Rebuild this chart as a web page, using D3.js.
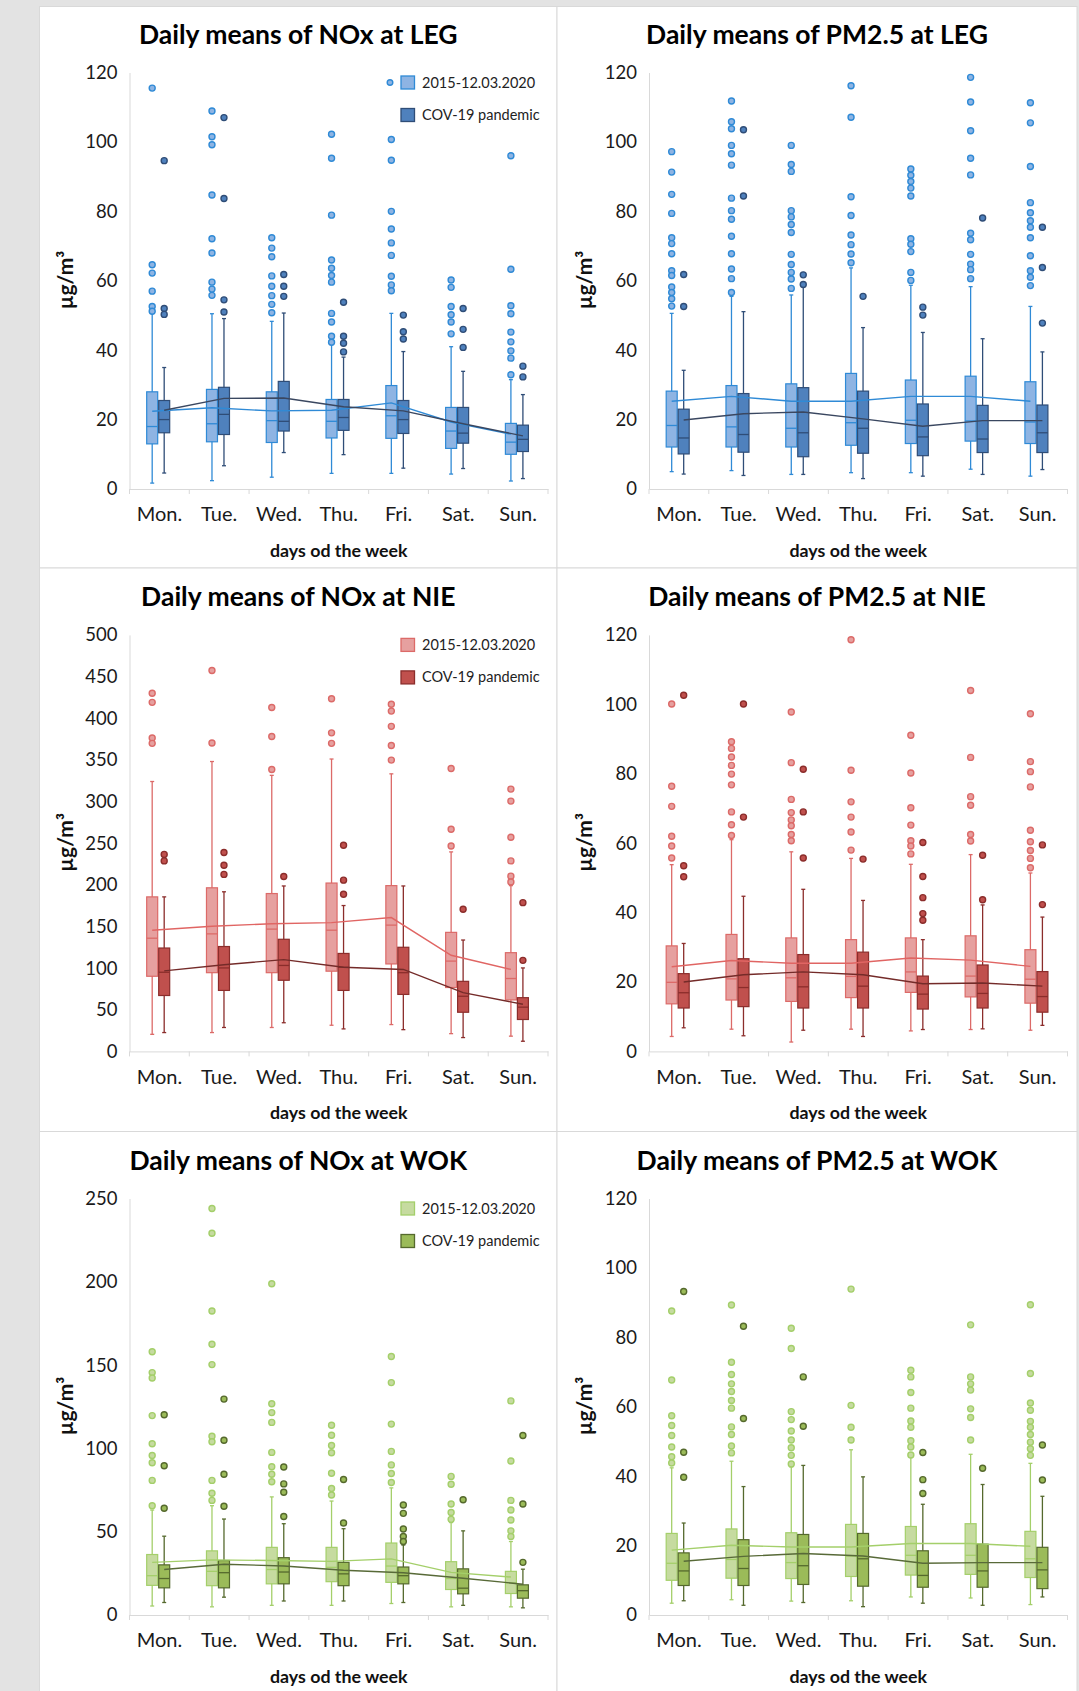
<!DOCTYPE html>
<html>
<head>
<meta charset="utf-8">
<script src="https://cdn.jsdelivr.net/npm/d3@7"></script>
<style>
body { margin: 0; background: #e3e3e3; }
svg { display: block; }
</style>
</head>
<body>
<div id="chart"></div>
<script>
// categories and legend names
var days = ["Mon.", "Tue.", "Wed.", "Thu.", "Fri.", "Sat.", "Sun."];
var seriesNames = ["2015-12.03.2020", "COV-19 pandemic"];

// tick labels
var ticks120 = [0, 20, 40, 60, 80, 100, 120];
var ticks500 = [0, 50, 100, 150, 200, 250, 300, 350, 400, 450, 500];
var ticks250 = [0, 50, 100, 150, 200, 250];

// each row: [whisker low, Q1, median, Q3, whisker high, mean]
var legNoxPre = [
  [1.7, 13.0, 18.0, 28.0, 50.6, 22.4],
  [2.4, 13.6, 18.8, 28.7, 50.5, 23.4],
  [3.4, 13.4, 19.7, 28.0, 48.3, 22.5],
  [4.5, 14.7, 19.5, 25.8, 41.8, 22.7],
  [4.5, 14.6, 21.1, 29.8, 50.6, 24.8],
  [4.3, 11.7, 16.7, 23.5, 41.0, 19.3],
  [2.3, 10.0, 13.5, 18.9, 31.5, 15.8]
];
var legNoxPreOut = [
  [115.5, 64.6, 62.2, 57.0, 52.6, 51.2],
  [108.9, 101.5, 99.2, 84.7, 72.1, 68.0, 59.6, 57.6, 55.8],
  [72.4, 69.4, 66.9, 61.4, 58.4, 55.7, 53.2, 50.8],
  [102.2, 95.3, 78.9, 66.0, 63.6, 61.5, 59.6, 50.6, 48.1, 44.0, 42.3],
  [100.7, 94.7, 80.0, 74.9, 70.9, 67.3, 61.3, 58.8, 57.1],
  [60.2, 58.1, 52.6, 50.2, 48.1, 44.7],
  [96.0, 63.3, 52.8, 50.5, 45.2, 42.4, 39.8, 37.7, 32.9]
];
var legNoxCov = [
  [4.6, 16.2, 20.0, 25.5, 35.0, 22.7],
  [6.7, 15.7, 21.5, 29.3, 49.1, 26.1],
  [10.5, 16.7, 19.5, 31.0, 50.7, 26.2],
  [9.9, 16.9, 20.6, 25.8, 38.0, 23.7],
  [6.0, 16.0, 20.0, 25.5, 39.6, 22.5],
  [5.9, 13.2, 16.1, 23.5, 33.9, 18.8],
  [3.0, 10.8, 14.3, 18.4, 27.2, 15.3]
];
var legNoxCovOut = [
  [94.6, 52.0, 50.3],
  [107.0, 83.7, 54.5, 51.0],
  [61.8, 58.4, 55.5],
  [53.8, 44.0, 42.0, 39.5],
  [50.1, 45.3, 43.2],
  [52.0, 46.0, 40.8],
  [35.4, 32.3]
];

var legPmPre = [
  [5.0, 12.1, 18.3, 28.2, 50.6, 25.3],
  [5.3, 12.1, 17.9, 29.8, 55.5, 26.7],
  [4.2, 12.1, 17.5, 30.3, 55.9, 25.3],
  [4.7, 12.6, 19.1, 33.3, 63.7, 25.3],
  [4.7, 13.1, 19.8, 31.4, 58.7, 26.7],
  [5.7, 13.8, 19.6, 32.5, 58.3, 26.7],
  [3.7, 13.1, 19.3, 30.9, 52.6, 25.3]
];
var legPmPreOut = [
  [97.2, 91.3, 84.9, 79.4, 72.4, 70.7, 67.8, 62.9, 61.5, 58.2, 56.6, 54.8, 52.7],
  [111.8, 105.8, 103.8, 99.0, 96.6, 93.3, 83.8, 80.2, 77.7, 72.8, 67.8, 63.4, 60.6, 56.6],
  [99.0, 93.5, 91.5, 80.2, 78.4, 76.2, 73.9, 67.6, 64.7, 62.4, 60.5, 57.8],
  [116.2, 107.1, 84.2, 78.8, 73.2, 70.4, 67.7, 65.2],
  [92.2, 90.4, 88.6, 86.7, 84.4, 72.1, 70.5, 68.4, 62.4, 60.1],
  [118.6, 111.5, 103.2, 95.3, 90.5, 73.7, 71.8, 67.6, 64.8, 63.2, 60.6],
  [111.3, 105.5, 92.9, 82.5, 79.6, 77.3, 75.4, 72.4, 67.2, 62.9, 61.0, 58.6]
];
var legPmCov = [
  [4.3, 10.1, 14.7, 23.0, 34.2, 19.9],
  [3.9, 10.6, 15.7, 27.5, 51.1, 21.7],
  [4.2, 9.3, 16.2, 29.2, 58.5, 22.2],
  [3.0, 10.3, 17.5, 28.2, 46.5, 20.2],
  [3.7, 9.6, 15.0, 24.5, 45.1, 18.1],
  [4.2, 10.5, 14.4, 24.1, 43.3, 19.7],
  [5.6, 10.5, 16.2, 24.2, 39.5, 19.7]
];
var legPmCovOut = [
  [61.8, 52.6],
  [103.5, 84.4],
  [61.7, 58.9],
  [55.5],
  [52.4, 50.1],
  [78.1],
  [75.4, 63.8, 47.8]
];

var nieNoxPre = [
  [20.5, 90.2, 135.9, 185.5, 324.0, 145.5],
  [22.6, 94.5, 141.1, 196.4, 348.0, 150.3],
  [28.7, 94.5, 146.8, 189.5, 331.4, 153.3],
  [31.4, 96.3, 145.5, 202.1, 351.0, 154.6],
  [32.2, 105.0, 151.6, 199.0, 333.2, 160.7],
  [21.3, 76.7, 108.4, 142.9, 239.5, 115.4],
  [18.3, 61.8, 87.5, 118.5, 199.0, 98.4]
];
var nieNoxPreOut = [
  [429.9, 419.0, 376.3, 369.8],
  [457.3, 370.2],
  [412.9, 378.0, 338.4],
  [423.3, 382.4, 369.8],
  [416.8, 408.5, 390.2, 367.2, 349.7],
  [339.7, 266.6, 246.5],
  [314.9, 300.5, 257.0, 228.7, 210.4, 203.4]
];
var nieNoxCov = [
  [22.6, 67.1, 95.0, 124.1, 185.5, 96.7],
  [28.7, 73.2, 100.2, 125.9, 191.6, 104.1],
  [34.4, 85.4, 103.2, 134.6, 198.6, 110.2],
  [27.0, 73.2, 101.0, 117.6, 175.1, 101.0],
  [26.1, 68.4, 94.5, 125.0, 198.6, 98.4],
  [16.6, 47.0, 66.2, 84.1, 133.7, 70.6],
  [12.2, 38.3, 53.1, 64.5, 100.2, 56.6]
];
var nieNoxCovOut = [
  [236.5, 228.7],
  [238.7, 223.4, 212.5],
  [209.9],
  [247.4, 205.6, 188.6],
  [],
  [170.7],
  [178.6, 109.3]
];

var niePmPre = [
  [4.3, 13.7, 19.9, 30.4, 53.8, 24.4],
  [6.4, 14.8, 20.9, 33.7, 61.0, 26.2],
  [2.7, 14.4, 21.2, 32.7, 57.5, 25.4],
  [6.4, 15.5, 21.6, 32.2, 55.6, 25.4],
  [5.9, 17.0, 22.9, 32.7, 53.9, 26.9],
  [6.3, 15.7, 21.7, 33.3, 56.7, 26.3],
  [6.1, 13.9, 20.8, 29.3, 51.4, 24.5]
];
var niePmPreOut = [
  [100.1, 76.4, 70.6, 62.0, 59.2, 55.7],
  [89.2, 87.3, 84.8, 82.4, 79.9, 76.8, 69.0, 65.3, 62.2],
  [97.8, 83.2, 72.6, 68.8, 66.7, 65.0, 62.5, 60.7],
  [118.6, 81.0, 71.9, 67.5, 63.2, 58.0],
  [91.1, 80.2, 70.2, 65.2, 60.7, 59.2, 56.9],
  [104.0, 84.7, 73.4, 70.9, 62.5, 60.6],
  [97.3, 83.5, 80.6, 76.2, 63.7, 60.4, 57.9, 55.6, 52.9]
];
var niePmCov = [
  [6.8, 12.5, 16.9, 22.4, 31.1, 20.0],
  [4.5, 12.9, 18.4, 26.7, 44.7, 22.1],
  [6.1, 12.5, 18.6, 27.9, 46.7, 22.9],
  [4.3, 12.5, 18.8, 28.6, 43.5, 22.1],
  [6.3, 12.2, 16.5, 21.7, 32.2, 19.5],
  [6.5, 12.5, 16.7, 24.9, 42.2, 19.7],
  [7.5, 11.3, 15.8, 23.0, 38.7, 18.8]
];
var niePmCovOut = [
  [102.6, 53.5, 50.3],
  [100.1, 67.5],
  [81.3, 69.0, 55.7],
  [55.4],
  [60.2, 50.4, 44.3, 39.7, 37.8],
  [56.5, 43.7],
  [59.5, 42.3]
];

var wokNoxPre = [
  [5.4, 17.8, 23.6, 36.3, 63.0, 31.6],
  [4.9, 17.6, 26.2, 38.5, 65.6, 33.1],
  [5.8, 18.7, 27.3, 40.6, 70.9, 32.7],
  [5.8, 20.0, 28.6, 40.6, 68.4, 32.2],
  [6.9, 19.6, 29.4, 43.2, 76.3, 33.7],
  [4.9, 15.3, 21.9, 32.0, 55.5, 25.6],
  [4.9, 12.9, 19.3, 26.2, 44.1, 22.8]
];
var wokNoxPreOut = [
  [158.0, 145.5, 142.3, 119.7, 102.8, 95.7, 91.4, 80.8, 65.6],
  [244.0, 229.1, 182.5, 162.5, 150.3, 107.3, 104.0, 80.8, 73.1, 68.8],
  [198.8, 126.8, 121.5, 115.6, 97.6, 89.0, 84.5, 80.0],
  [113.9, 107.9, 101.7, 97.4, 85.1, 75.9, 72.0],
  [155.2, 139.5, 114.6, 98.2, 90.1, 84.9, 79.5],
  [83.2, 78.5, 66.6, 61.5, 57.4],
  [128.5, 92.4, 68.8, 63.0, 57.0, 50.5, 47.1]
];
var wokNoxCov = [
  [7.5, 16.3, 21.9, 30.1, 47.3, 27.3],
  [10.7, 16.3, 25.4, 32.7, 57.6, 30.5],
  [8.4, 18.7, 25.8, 34.4, 54.8, 29.4],
  [8.4, 17.6, 24.7, 31.6, 51.8, 26.9],
  [7.5, 18.7, 23.6, 28.8, 42.0, 25.4],
  [5.8, 12.7, 16.1, 27.7, 50.5, 22.1],
  [4.3, 10.1, 14.6, 18.1, 27.5, 18.5]
];
var wokNoxCovOut = [
  [120.2, 89.6, 64.1],
  [129.6, 104.9, 84.5, 65.3],
  [88.8, 78.7, 73.7, 59.1],
  [81.3, 55.2],
  [66.0, 61.0, 51.6, 47.1, 44.1],
  [69.2],
  [107.7, 66.6, 31.6]
];

var wokPmPre = [
  [3.4, 10.0, 14.9, 23.5, 42.4, 18.7],
  [4.4, 10.6, 16.0, 24.8, 44.3, 20.1],
  [4.0, 10.5, 15.1, 23.7, 42.7, 19.6],
  [4.1, 11.1, 17.0, 26.1, 47.6, 19.6],
  [5.2, 11.5, 17.2, 25.5, 45.8, 20.6],
  [4.9, 11.7, 17.2, 26.3, 46.3, 20.6],
  [3.0, 10.8, 16.2, 24.1, 43.7, 19.8]
];
var wokPmPreOut = [
  [87.6, 67.7, 57.4, 54.6, 51.7, 48.4, 45.6, 43.8],
  [89.3, 72.8, 69.3, 66.6, 64.4, 61.8, 59.6, 54.2, 52.0, 48.7, 46.7],
  [82.6, 76.8, 58.6, 56.3, 53.0, 50.4, 48.2, 46.0, 43.5],
  [93.9, 60.4, 54.1, 50.4],
  [70.5, 68.6, 64.1, 59.6, 55.9, 54.1, 50.2, 48.4, 46.1],
  [83.6, 68.6, 66.6, 64.8, 59.4, 56.9, 50.4],
  [89.4, 69.6, 61.1, 59.0, 55.8, 54.1, 52.0, 49.8, 47.9, 46.0]
];
var wokPmCov = [
  [4.1, 8.5, 12.7, 17.9, 26.5, 15.5],
  [2.8, 8.5, 13.4, 21.7, 37.0, 16.9],
  [3.6, 8.8, 14.2, 23.2, 43.1, 17.7],
  [2.4, 8.3, 16.2, 23.5, 39.8, 17.0],
  [3.4, 8.0, 11.4, 18.5, 31.9, 14.9],
  [2.8, 8.0, 12.7, 20.4, 37.6, 15.1],
  [5.2, 7.6, 13.0, 19.5, 34.2, 15.1]
];
var wokPmCovOut = [
  [93.2, 46.9, 39.7],
  [83.2, 56.6],
  [68.6, 54.4],
  [],
  [46.8, 39.0, 35.0],
  [42.3],
  [49.0, 38.9]
];

// colours for each station
var blue = {
  preFill: "#8eb4e3", preStroke: "#2f8ad6", preLine: "#2f8ad6",
  covFill: "#4f81bd", covStroke: "#2f4d77", covLine: "#3a4760"
};
var red = {
  preFill: "#e6a09f", preStroke: "#dc6a68", preLine: "#e06563",
  covFill: "#c0504d", covStroke: "#8b2d2b", covLine: "#742b29"
};
var green = {
  preFill: "#c6dba0", preStroke: "#a4cf6a", preLine: "#a4cf6a",
  covFill: "#9bbb59", covStroke: "#55692d", covLine: "#586a38"
};

var width = 1079;
var height = 1691;
var font = "Lato, 'Open Sans', sans-serif";

var colLeft = [39.5, 557];
var colRight = [557, 1077];
var rowTop = [6.5, 568, 1131.5];
var rowBottom = [568, 1131.5, 1700];
var rowShift = [0, 562.4, 1126];
var plotLeft = [129.5, 649];
var plotRight = [548, 1067.5];
var plotTop = 72.5;
var plotBottom = 489;

var svg = d3
  .select("#chart")
  .append("svg")
  .attr("width", width)
  .attr("height", height);

var panels = [
  { title: "Daily means of NOx at LEG", col: 0, row: 0, pre: legNoxPre, preOut: legNoxPreOut,
    cov: legNoxCov, covOut: legNoxCovOut, ticks: ticks120, pal: blue, legend: true, legendDot: true },
  { title: "Daily means of PM2.5 at LEG", col: 1, row: 0, pre: legPmPre, preOut: legPmPreOut,
    cov: legPmCov, covOut: legPmCovOut, ticks: ticks120, pal: blue, legend: false },
  { title: "Daily means of NOx at NIE", col: 0, row: 1, pre: nieNoxPre, preOut: nieNoxPreOut,
    cov: nieNoxCov, covOut: nieNoxCovOut, ticks: ticks500, pal: red, legend: true, legendDot: false },
  { title: "Daily means of PM2.5 at NIE", col: 1, row: 1, pre: niePmPre, preOut: niePmPreOut,
    cov: niePmCov, covOut: niePmCovOut, ticks: ticks120, pal: red, legend: false },
  { title: "Daily means of NOx at WOK", col: 0, row: 2, pre: wokNoxPre, preOut: wokNoxPreOut,
    cov: wokNoxCov, covOut: wokNoxCovOut, ticks: ticks250, pal: green, legend: true, legendDot: false },
  { title: "Daily means of PM2.5 at WOK", col: 1, row: 2, pre: wokPmPre, preOut: wokPmPreOut,
    cov: wokPmCov, covOut: wokPmCovOut, ticks: ticks120, pal: green, legend: false }
];

panels.forEach(drawPanel);

function drawPanel(p) {
  var g = svg.append("g");
  var shift = rowShift[p.row];
  var top = plotTop + shift;
  var bottom = plotBottom + shift;

  // panel background
  g.append("rect")
    .attr("x", colLeft[p.col])
    .attr("y", rowTop[p.row])
    .attr("width", colRight[p.col] - colLeft[p.col])
    .attr("height", rowBottom[p.row] - rowTop[p.row])
    .attr("fill", "#fff")
    .attr("stroke", "#d9d9d9")
    .attr("stroke-width", 1);

  var x = d3.scaleBand().domain(days).range([plotLeft[p.col], plotRight[p.col]]);
  var y = d3.scaleLinear().domain([0, d3.max(p.ticks)]).range([bottom, top]);
  var bw = x.bandwidth();

  // title
  g.append("text")
    .attr("x", (colLeft[p.col] + colRight[p.col]) / 2)
    .attr("y", 43.5 + shift)
    .attr("text-anchor", "middle")
    .attr("font-family", font)
    .attr("font-weight", "bold")
    .attr("font-size", 26.5)
    .attr("fill", "#000")
    .text(p.title);

  // y axis
  var yAxis = g.append("g")
    .attr("transform", "translate(" + plotLeft[p.col] + ",0)")
    .call(d3.axisLeft(y).tickValues(p.ticks).tickSize(0).tickPadding(12));
  yAxis.select(".domain").attr("stroke", "#d9d9d9");
  yAxis.selectAll("text")
    .attr("font-family", font)
    .attr("font-size", 18.5)
    .attr("fill", "#1a1a1a");

  // x axis
  var xAxis = g.append("g")
    .attr("transform", "translate(0," + bottom + ")")
    .call(d3.axisBottom(x).tickSize(0).tickPadding(18));
  xAxis.select(".domain").attr("stroke", "#d9d9d9");
  xAxis.selectAll("text")
    .attr("font-family", font)
    .attr("font-size", 20)
    .attr("fill", "#1a1a1a");

  // tick marks between the categories
  var edges = days.map(function(d) { return x(d); }).concat([plotRight[p.col]]);
  g.selectAll(".edge")
    .data(edges)
    .enter()
    .append("line")
    .attr("x1", function(d) { return d; })
    .attr("x2", function(d) { return d; })
    .attr("y1", bottom)
    .attr("y2", bottom + 5)
    .attr("stroke", "#d9d9d9");

  // axis titles
  g.append("text")
    .attr("x", (plotLeft[p.col] + plotRight[p.col]) / 2)
    .attr("y", 556.5 + shift)
    .attr("text-anchor", "middle")
    .attr("font-family", font)
    .attr("font-weight", "bold")
    .attr("font-size", 17.8)
    .attr("fill", "#111")
    .text("days od the week");

  var yTitleX = plotLeft[p.col] - 57;
  var yTitleY = 280 + shift;
  g.append("text")
    .attr("transform", "translate(" + yTitleX + "," + yTitleY + ")rotate(-90)")
    .attr("text-anchor", "middle")
    .attr("font-family", font)
    .attr("font-weight", "bold")
    .attr("font-size", 21)
    .attr("fill", "#111")
    .text("µg/m³");

  var series = [
    { data: p.pre, out: p.preOut, off: -7.2, fill: p.pal.preFill, stroke: p.pal.preStroke, line: p.pal.preLine },
    { data: p.cov, out: p.covOut, off: 4.8, fill: p.pal.covFill, stroke: p.pal.covStroke, line: p.pal.covLine }
  ];
  var boxW = 11;

  function cx(s, i) {
    return x(days[i]) + bw / 2 + s.off;
  }

  // whiskers and boxes
  series.forEach(function(s) {
    var sg = g.append("g");
    s.data.forEach(function(d, i) {
      var c = cx(s, i);
      sg.append("line")
        .attr("x1", c).attr("x2", c)
        .attr("y1", y(d[0])).attr("y2", y(d[4]))
        .attr("stroke", s.stroke)
        .attr("stroke-width", 1.3);
      [d[0], d[4]].forEach(function(v) {
        sg.append("line")
          .attr("x1", c - 2).attr("x2", c + 2)
          .attr("y1", y(v)).attr("y2", y(v))
          .attr("stroke", s.stroke)
          .attr("stroke-width", 1.3);
      });
      sg.append("rect")
        .attr("x", c - boxW / 2)
        .attr("y", y(d[3]))
        .attr("width", boxW)
        .attr("height", y(d[1]) - y(d[3]))
        .attr("fill", s.fill)
        .attr("stroke", s.stroke)
        .attr("stroke-width", 1.2);
      sg.append("line")
        .attr("x1", c - boxW / 2).attr("x2", c + boxW / 2)
        .attr("y1", y(d[2])).attr("y2", y(d[2]))
        .attr("stroke", s.stroke)
        .attr("stroke-width", 1.3);
    });
  });

  // mean lines
  series.forEach(function(s) {
    var meanLine = d3.line()
      .x(function(d, i) { return cx(s, i); })
      .y(function(d) { return y(d[5]); });
    g.append("path")
      .datum(s.data)
      .attr("d", meanLine)
      .attr("fill", "none")
      .attr("stroke", s.line)
      .attr("stroke-width", 1.4);
  });

  // outliers
  series.forEach(function(s) {
    s.out.forEach(function(list, i) {
      g.selectAll(null)
        .data(list)
        .enter()
        .append("circle")
        .attr("cx", cx(s, i))
        .attr("cy", function(v) { return y(v); })
        .attr("r", 3)
        .attr("fill", s.fill)
        .attr("stroke", s.stroke)
        .attr("stroke-width", 1.4);
    });
  });

  // legend
  if (p.legend) {
    var lg = g.append("g").attr("transform", "translate(0," + shift + ")");
    if (p.legendDot) {
      lg.append("circle")
        .attr("cx", 390).attr("cy", 82.5).attr("r", 2.8)
        .attr("fill", p.pal.preFill)
        .attr("stroke", p.pal.preStroke)
        .attr("stroke-width", 1.4);
    }
    var legendItems = [
      { name: seriesNames[0], fill: p.pal.preFill, stroke: p.pal.preStroke, y: 76 },
      { name: seriesNames[1], fill: p.pal.covFill, stroke: p.pal.covStroke, y: 108.5 }
    ];
    legendItems.forEach(function(it) {
      lg.append("rect")
        .attr("x", 401).attr("y", it.y)
        .attr("width", 13.5).attr("height", 13)
        .attr("fill", it.fill)
        .attr("stroke", it.stroke)
        .attr("stroke-width", 1.3);
      lg.append("text")
        .attr("x", 422).attr("y", it.y + 11.5)
        .attr("font-family", font)
        .attr("font-size", 14.5)
        .attr("fill", "#222")
        .text(it.name);
    });
  }
}
</script>
</body>
</html>
